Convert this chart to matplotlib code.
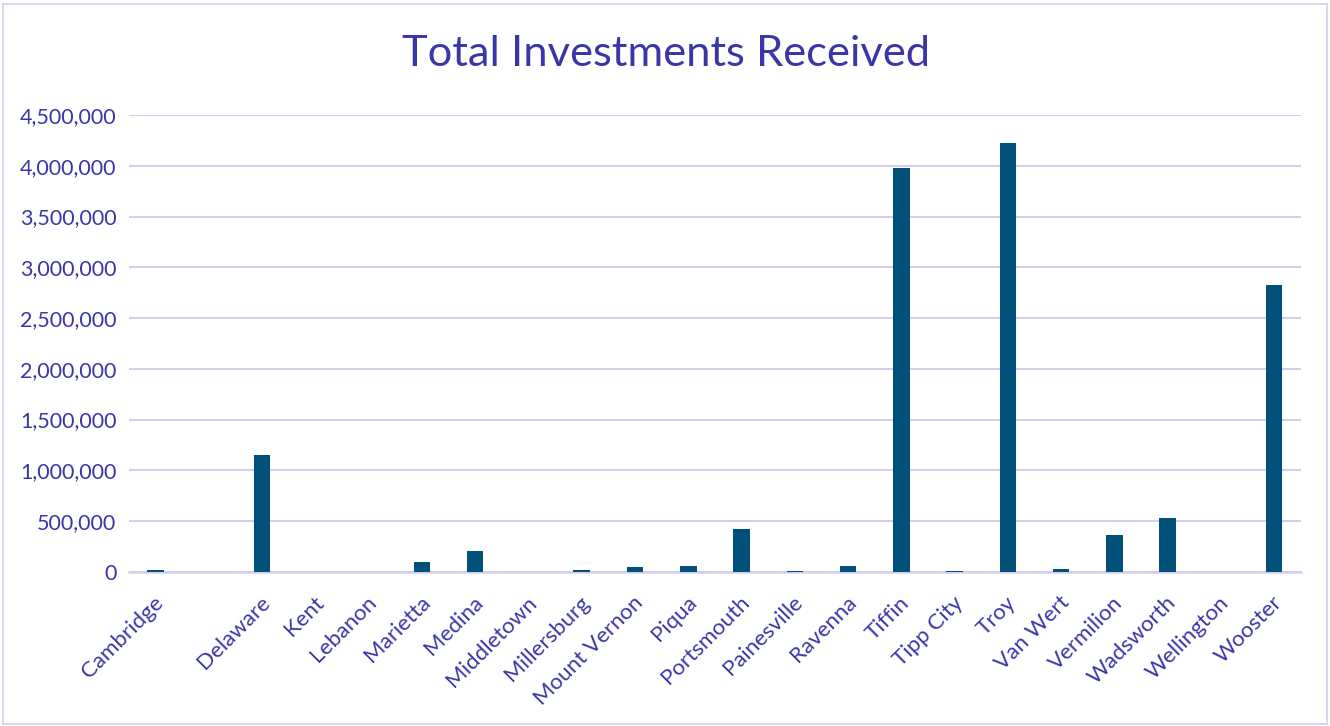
import matplotlib
matplotlib.use("Agg")
import matplotlib.pyplot as plt
from matplotlib.patches import Rectangle
from matplotlib.ticker import FuncFormatter, MultipleLocator
from matplotlib.transforms import ScaledTranslation

cities = ["Cambridge", "", "Delaware", "Kent", "Lebanon", "Marietta", "Medina",
          "Middletown", "Millersburg", "Mount Vernon", "Piqua", "Portsmouth",
          "Painesville", "Ravenna", "Tiffin", "Tipp City", "Troy", "Van Wert",
          "Vermilion", "Wadsworth", "Wellington", "Wooster"]
investments = [15000, 0, 1155000, 0, 0, 98000, 200000,
               0, 20000, 43000, 59000, 420000,
               10000, 53000, 3980000, 12000, 4224000, 30000,
               362000, 529000, 0, 2825000]

TEXT = "#3B36A8"
BAR = "#01507A"
GRID = "#D2CEEE"

plt.rcParams['font.family'] = ['Lato', 'DejaVu Sans']

fig = plt.figure(figsize=(13.3, 7.26), dpi=100)
ax = fig.add_axes([0.097, 0.2125, 0.881, 0.629])

x = list(range(len(cities)))
ax.bar(x, investments, width=0.31, color=BAR, zorder=3)

ax.set_xlim(-0.5, len(cities) - 0.5)
ax.set_ylim(0, 4500000)
ax.yaxis.set_major_locator(MultipleLocator(500000))
ax.yaxis.set_major_formatter(FuncFormatter(lambda v, p: f"{int(v):,}"))
ax.grid(axis='y', color=GRID, linewidth=1.5, zorder=0)
for s in ['top', 'right', 'left']:
    ax.spines[s].set_visible(False)
ax.spines['bottom'].set_color(GRID)
ax.spines['bottom'].set_linewidth(1.8)

ax.tick_params(axis='y', length=0, pad=9, labelsize=15.5, labelcolor=TEXT)
ax.tick_params(axis='x', length=0, pad=20, labelsize=16, labelcolor=TEXT)
ax.set_xticks(x)
ax.set_xticklabels(cities, rotation=45, ha='right', va='center', rotation_mode='anchor')
offset = ScaledTranslation(5 / 100, 0, fig.dpi_scale_trans)
for lbl in ax.get_xticklabels():
    lbl.set_transform(lbl.get_transform() + offset)

fig.text(0.501, 0.925, "Total Investments Received", ha='center', va='center',
         fontsize=31.3, color=TEXT)

fig.patches.append(Rectangle((0.002, 0.003), 0.996, 0.992, transform=fig.transFigure,
                             fill=False, edgecolor=GRID, linewidth=1.2))

fig.savefig("out.png", dpi=100)
